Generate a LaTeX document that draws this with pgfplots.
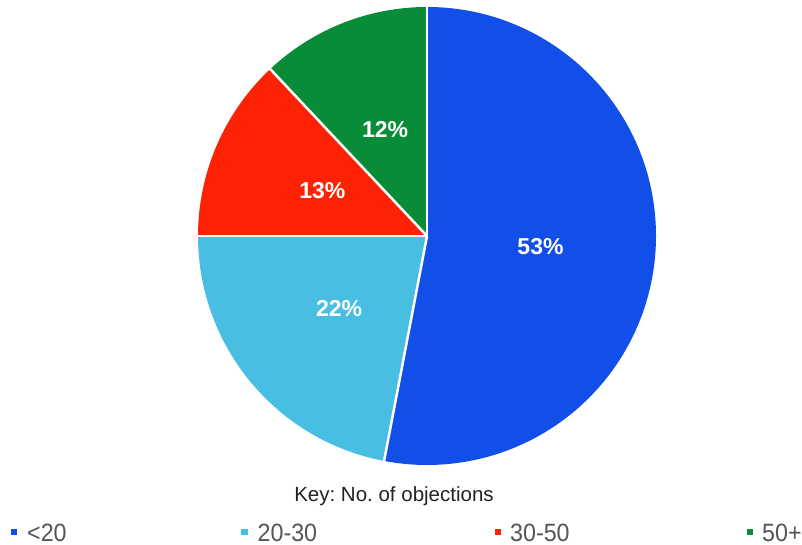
\documentclass[border=0pt]{standalone}
\usepackage{pgfplots}
\usepackage{pgfplotstable}
\pgfplotsset{compat=1.18}
\usepackage{fontspec}
\setmainfont{Liberation Sans}
\frenchspacing
\definecolor{cA}{RGB}{18,78,232}
\definecolor{cB}{RGB}{72,190,226}
\definecolor{cC}{RGB}{253,34,4}
\definecolor{cD}{RGB}{8,140,56}
\definecolor{keytxt}{RGB}{34,34,34}
\definecolor{legtxt}{RGB}{85,85,85}

\pgfplotstableread{
pct
53
22
13
12
}\piedata

\begin{document}
\begin{tikzpicture}
\pgfplotstablegetelem{0}{pct}\of\piedata \let\pA\pgfplotsretval
\pgfplotstablegetelem{1}{pct}\of\piedata \let\pB\pgfplotsretval
\pgfplotstablegetelem{2}{pct}\of\piedata \let\pC\pgfplotsretval
\pgfplotstablegetelem{3}{pct}\of\piedata \let\pD\pgfplotsretval
\pgfmathsetmacro\aA{90}
\pgfmathsetmacro\aB{\aA-3.6*\pA}
\pgfmathsetmacro\aC{\aB-3.6*\pB}
\pgfmathsetmacro\aD{\aC-3.6*\pC}
\pgfmathsetmacro\aE{\aD-3.6*\pD}
\pgfmathsetmacro\mA{(\aA+\aB)/2}
\pgfmathsetmacro\mB{(\aB+\aC)/2}
\pgfmathsetmacro\mC{(\aC+\aD)/2}
\pgfmathsetmacro\mD{(\aD+\aE)/2}
\def\cx{427}\def\cy{309}\def\R{229}\def\rl{114}
\begin{axis}[
  scale only axis, width=802bp, height=545bp,
  xmin=0, xmax=802, ymin=0, ymax=545,
  axis lines=none, clip=false,
]
\path (axis cs:0,0) rectangle (axis cs:802,545);
\fill[cA] (axis cs:\cx,\cy) -- (axis cs:{\cx+\R*cos(\aA)},{\cy+\R*sin(\aA)}) arc[start angle=\aA, end angle=\aB, radius=229bp] -- cycle;
\fill[cB] (axis cs:\cx,\cy) -- (axis cs:{\cx+\R*cos(\aB)},{\cy+\R*sin(\aB)}) arc[start angle=\aB, end angle=\aC, radius=229bp] -- cycle;
\fill[cC] (axis cs:\cx,\cy) -- (axis cs:{\cx+\R*cos(\aC)},{\cy+\R*sin(\aC)}) arc[start angle=\aC, end angle=\aD, radius=229bp] -- cycle;
\fill[cD] (axis cs:\cx,\cy) -- (axis cs:{\cx+\R*cos(\aD)},{\cy+\R*sin(\aD)}) arc[start angle=\aD, end angle=\aE, radius=229bp] -- cycle;
% white separators
\draw[white, line width=2.5bp, line cap=round] (axis cs:\cx,\cy) -- (axis cs:{\cx+\R*cos(\aA)},{\cy+\R*sin(\aA)});
\draw[white, line width=2.5bp, line cap=round] (axis cs:\cx,\cy) -- (axis cs:{\cx+\R*cos(\aB)},{\cy+\R*sin(\aB)});
\draw[white, line width=2.5bp, line cap=round] (axis cs:\cx,\cy) -- (axis cs:{\cx+\R*cos(\aC)},{\cy+\R*sin(\aC)});
\draw[white, line width=2.5bp, line cap=round] (axis cs:\cx,\cy) -- (axis cs:{\cx+\R*cos(\aD)},{\cy+\R*sin(\aD)});
% labels
\node[white, font=\fontsize{23bp}{27bp}\selectfont\bfseries] at (axis cs:{\cx+\rl*cos(\mA)},{\cy+\rl*sin(\mA)}) {53\%};
\node[white, font=\fontsize{23bp}{27bp}\selectfont\bfseries] at (axis cs:{\cx+\rl*cos(\mB)},{\cy+\rl*sin(\mB)}) {22\%};
\node[white, font=\fontsize{23bp}{27bp}\selectfont\bfseries] at (axis cs:{\cx+\rl*cos(\mC)},{\cy+\rl*sin(\mC)}) {13\%};
\node[white, font=\fontsize{23bp}{27bp}\selectfont\bfseries] at (axis cs:{\cx+\rl*cos(\mD)},{\cy+\rl*sin(\mD)}) {12\%};
% key title
\node[keytxt, anchor=base, inner sep=0pt, font=\fontsize{20.5bp}{24bp}\selectfont] at (axis cs:394,43.5) {Key: No. of objections};
% legend
\fill[cA] (axis cs:10.8,9.5) rectangle (axis cs:17.2,15.9);
\fill[cB] (axis cs:241.3,9.5) rectangle (axis cs:247.7,15.9);
\fill[cC] (axis cs:494.8,9.5) rectangle (axis cs:501.2,15.9);
\fill[cD] (axis cs:746.8,9.5) rectangle (axis cs:753.2,15.9);
\node[legtxt, anchor=base west, inner sep=0pt, xscale=0.93, font=\fontsize{25bp}{29bp}\selectfont] at (axis cs:27,3.8) {<20};
\node[legtxt, anchor=base west, inner sep=0pt, xscale=0.93, font=\fontsize{25bp}{29bp}\selectfont] at (axis cs:257.5,3.8) {20-30};
\node[legtxt, anchor=base west, inner sep=0pt, xscale=0.93, font=\fontsize{25bp}{29bp}\selectfont] at (axis cs:510,3.8) {30-50};
\node[legtxt, anchor=base west, inner sep=0pt, xscale=0.93, font=\fontsize{25bp}{29bp}\selectfont] at (axis cs:762,3.8) {50+};
\end{axis}
\end{tikzpicture}
\end{document}
